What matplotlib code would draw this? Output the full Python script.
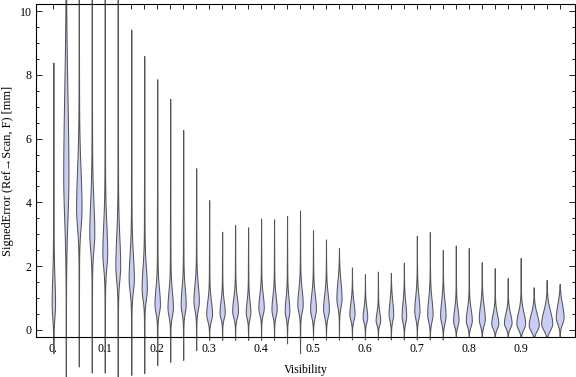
import numpy as np
import matplotlib
matplotlib.use('Agg')
import matplotlib.pyplot as plt
from matplotlib.ticker import FixedLocator, MultipleLocator

plt.rcParams['font.family'] = ['Liberation Serif', 'DejaVu Serif']

# visibility bins (one violin each)
visibility = [0.0, 0.025, 0.05, 0.075, 0.1, 0.125, 0.15, 0.175, 0.2, 0.225,
              0.25, 0.275, 0.3, 0.325, 0.35, 0.375, 0.4, 0.425, 0.45, 0.475,
              0.5, 0.525, 0.55, 0.575, 0.6, 0.625, 0.65, 0.675, 0.7, 0.725,
              0.75, 0.775, 0.8, 0.825, 0.85, 0.875, 0.9, 0.925, 0.95, 0.975]

# max / min signed error per bin [mm]
err_max = [8.38, 13.0, 12.5, 12.0, 11.5, 11.0, 9.42, 8.59, 7.86, 7.25,
           6.27, 5.07, 4.07, 3.08, 3.29, 3.22, 3.49, 3.47, 3.57, 3.74,
           3.13, 2.84, 2.57, 1.96, 1.75, 1.83, 1.79, 2.11, 2.95, 3.07,
           2.51, 2.65, 2.57, 2.13, 1.94, 1.63, 2.26, 1.34, 1.57, 1.44]
err_min = [-0.73, -1.5, -1.16, -1.35, -1.35, -1.5, -1.41, -1.35, -1.1, -1.0,
           -0.94, -0.63, -0.31, -0.31, -0.31, -0.31, -0.31, -0.31, -0.42, -0.73,
           -0.3, -0.3, -0.3, -0.3, -0.3, -0.3, -0.3, -0.3, -0.3, -0.3,
           -0.3, -0.2, -0.2, -0.2, -0.2, -0.2, -0.2, -0.2, -0.2, -0.2]

# where the density peaks, how tall the peak is, and its spread
err_mode = [0.8, 4.8, 3.8, 3.0, 2.4, 2.0, 1.6, 1.3, 0.8, 0.7,
            0.8, 0.9, 0.5, 0.55, 0.6, 0.55, 0.7, 0.65, 0.6, 0.8,
            0.65, 0.65, 1.0, 0.5, 0.4, 0.3, 0.5, 0.45, 0.6, 0.5,
            0.45, 0.3, 0.3, 0.35, 0.2, 0.22, 0.2, 0.15, 0.2, 0.4]
density = [1.3, 2.2, 2.3, 2.1, 2.0, 2.0, 2.2, 2.2, 2.3, 2.3,
           2.1, 2.3, 2.5, 2.2, 2.5, 1.9, 2.3, 2.2, 1.9, 2.3,
           2.5, 2.5, 2.2, 2.2, 1.9, 1.9, 1.9, 1.9, 2.2, 2.3,
           2.3, 2.3, 2.6, 2.6, 3.1, 3.4, 4.0, 4.6, 5.1, 3.5]
spread = [0.8, 2.6, 1.2, 1.0, 0.9, 0.9, 0.75, 0.65, 0.5, 0.5,
          0.5, 0.5, 0.4, 0.35, 0.4, 0.35, 0.4, 0.4, 0.4, 0.45,
          0.45, 0.45, 0.5, 0.35, 0.3, 0.25, 0.4, 0.4, 0.45, 0.45,
          0.45, 0.35, 0.35, 0.4, 0.3, 0.3, 0.35, 0.35, 0.4, 0.4]

tick_labels = ['0.', '0.1', '0.2', '0.3', '0.4', '0.5', '0.6', '0.7', '0.8', '0.9']
tick_pos = [0.0, 0.1, 0.2, 0.3, 0.4, 0.5, 0.6, 0.7, 0.8, 0.9]

fill_col = '#c9cef4'
edge_col = '#555555'
w_scale = 0.025 / 12.95   # width units -> x data units
tail_w = 0.4


def violin_outline(lo, hi, mode, peak, sd):
    y = np.linspace(lo, hi, 400)
    up = y >= mode
    bulge = np.where(up, np.exp(-0.5 * ((y - mode) / sd) ** 2),
                     np.exp(-0.5 * ((y - mode) / (0.5 * sd)) ** 2)) * peak
    tail = np.where(up, (hi - y) / (hi - mode), (y - lo) / (mode - lo)) * tail_w
    return y, (bulge + tail) * w_scale


fig = plt.figure(figsize=(5.76, 3.77), dpi=100)
ax = fig.add_axes([36 / 576, 40 / 377, 539 / 576, 333 / 377])

for i in range(len(visibility)):
    y, w = violin_outline(err_min[i], err_max[i], err_mode[i], density[i], spread[i])
    ax.fill_betweenx(y, visibility[i] - w, visibility[i] + w, facecolor=fill_col,
                     edgecolor=edge_col, linewidth=0.75, clip_on=False, zorder=2)

ax.set_xlim(-0.0334, 1.0045)
ax.set_ylim(-0.22, 10.22)

ax.xaxis.set_major_locator(FixedLocator(visibility))
ax.set_xticklabels([tick_labels[tick_pos.index(v)] if v in tick_pos else '' for v in visibility])
ax.yaxis.set_major_locator(MultipleLocator(2))
ax.yaxis.set_minor_locator(MultipleLocator(0.5))
ax.tick_params(axis='x', which='major', direction='in', length=3.5, width=0.6,
               top=True, labelsize=8.6, pad=4)
ax.tick_params(axis='y', which='major', direction='in', length=4.5, width=0.6,
               right=True, labelsize=8.6, pad=3)
ax.tick_params(axis='y', which='minor', direction='in', length=2.5, width=0.6, right=True)
for s in ax.spines.values():
    s.set_linewidth(0.8)

ax.set_xlabel('Visibility', fontsize=8.6, labelpad=7)
ax.set_ylabel('SignedError (Ref\u2192Scan, F) [mm]', fontsize=8.9, labelpad=4)

fig.savefig('out.png', dpi=100)
